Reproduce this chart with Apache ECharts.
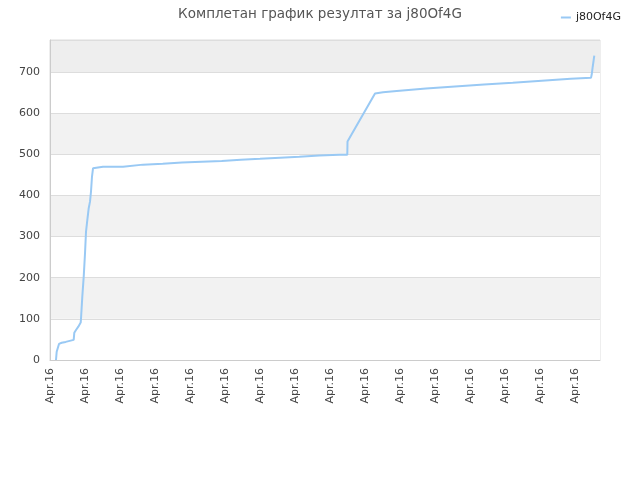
<!DOCTYPE html>
<html>
<head>
<meta charset="utf-8">
<script src="https://cdn.jsdelivr.net/npm/echarts@6/dist/echarts.min.js"></script>
<style>html,body{margin:0;padding:0;background:#fff}#c{width:640px;height:480px}</style>
</head>
<body>
<div id="c"></div>
<script>
const titleText = 'Комплетан график резултат за j80Of4G';
const seriesName = 'j80Of4G';
const tickLabel = 'Apr.16';
const xPos = [0.171,0.191,0.257,0.334,0.449,0.677,0.694,0.743,0.809,0.877,0.886,0.923,0.963,1.0,1.029,1.066,1.106,1.143,1.171,1.2,1.229,1.514,2.086,2.657,3.22,3.771,4.334,4.906,5.449,6.0,6.571,7.123,7.694,8.266,8.494,8.5,9.286,9.514,9.906,10.743,11.571,12.4,13.22,14.049,14.877,15.457,15.477,15.506,15.551];
const values = [0,20,39,42,44,49,66,73,81,91,101,154,202,259,312,340,369,385,409,446,466,470,470,475,477,480,482,484,487,489,492,494,497,499,499,531,648,651,654,660,665,670,674,679,684,686,694,713,740];
const yTicks = [0,100,200,300,400,500,600,700];

const chart = echarts.init(document.getElementById('c'));
chart.setOption({
  animation:false,
  title:{text:titleText,left:'center',top:2,textStyle:{fontFamily:'DejaVu Sans',fontSize:13.5,fontWeight:'normal',color:'#555'}},
  legend:{data:[seriesName],right:14,top:7,itemWidth:10,itemHeight:2,itemGap:10,icon:'rect',textStyle:{fontFamily:'DejaVu Sans',fontSize:11,color:'#222'}},
  grid:{left:50,right:40,top:40,bottom:120,show:true,borderColor:'#ddd',borderWidth:1,backgroundColor:'transparent'},
  xAxis:{type:'value',min:0,max:15.714,interval:1,
    axisLine:{show:true,lineStyle:{color:'#ccc'}},axisTick:{show:false},splitLine:{show:false},
    axisLabel:{rotate:90,showMaxLabel:false,fontFamily:'DejaVu Sans',fontSize:11,color:'#444',margin:8,formatter:()=>tickLabel}},
  yAxis:{type:'value',min:0,max:778,interval:100,
    axisLine:{show:true,lineStyle:{color:'#ccc'}},axisTick:{show:false},
    splitLine:{show:true,lineStyle:{color:'#ddd'}},
    splitArea:{show:true,areaStyle:{color:['#ffffff','#f2f2f2','#ffffff','#f2f2f2','#ffffff','#f2f2f2','#ffffff','#eeeeee']}},
    axisLabel:{showMaxLabel:false,fontFamily:'DejaVu Sans',fontSize:11,color:'#444',margin:10,
      formatter:v=>yTicks.includes(v)?String(v):''}},
  series:[{name:seriesName,type:'line',showSymbol:false,symbol:'none',
    lineStyle:{color:'#99c9f4',width:2},itemStyle:{color:'#99c9f4'},
    data:xPos.map((x,i)=>[x,values[i]])}]
});
</script>
</body>
</html>
